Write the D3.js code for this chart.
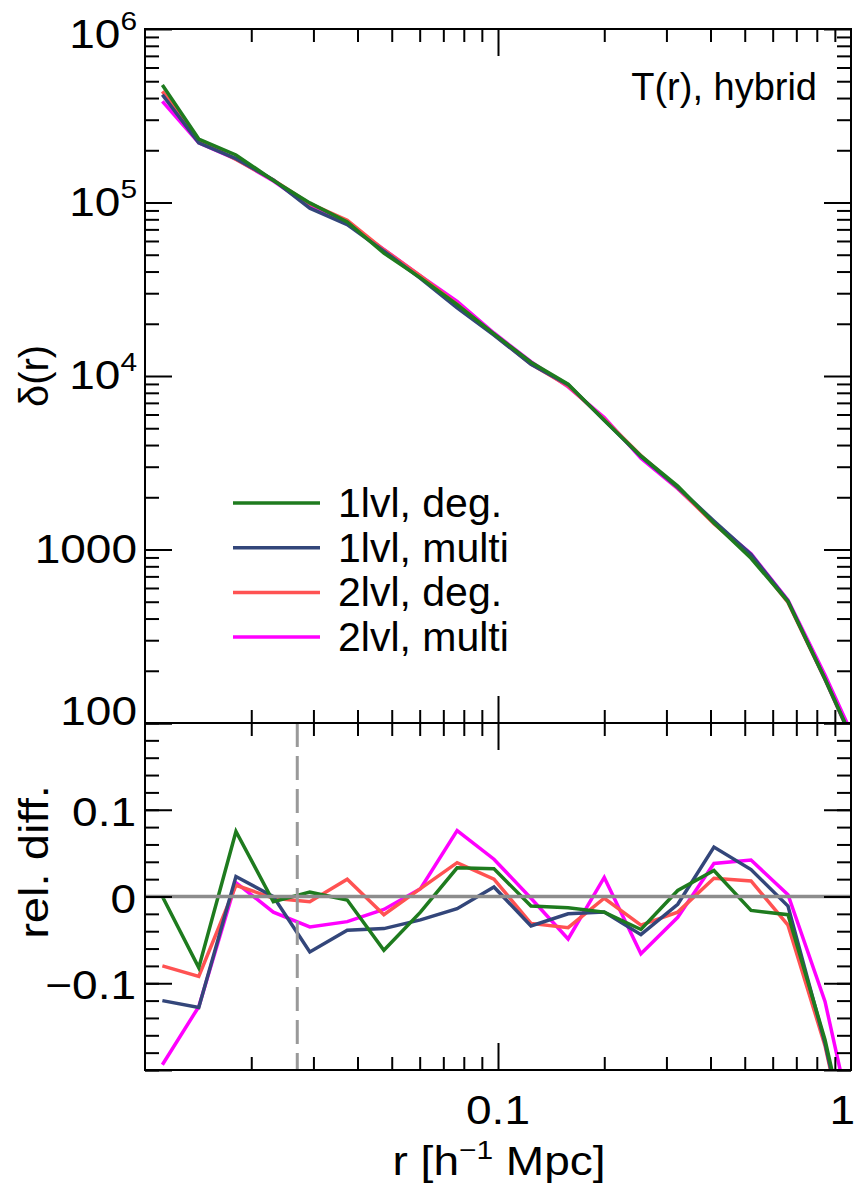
<!DOCTYPE html>
<html>
<head>
<meta charset="utf-8">
<script src="https://cdn.jsdelivr.net/npm/d3@7"></script>
<style>
  body { margin: 0; background: #fff; }
  text { font-family: "Liberation Sans", Arial, Helvetica, sans-serif; fill: #000; }
</style>
</head>
<body>
<svg id="chart" width="855" height="1188"></svg>
<script>
// radius bins [h^-1 Mpc]
const radius = [0.0112, 0.0142, 0.0181, 0.0231, 0.0293, 0.0374, 0.0475, 0.0603, 0.0766, 0.0974,
                0.124, 0.158, 0.200, 0.254, 0.323, 0.409, 0.521, 0.663, 0.844, 1.07];

const seriesNames = ["1lvl, deg.", "1lvl, multi", "2lvl, deg.", "2lvl, multi"];
const seriesColors = ["#1e7b1e", "#33467a", "#ff5252", "#ff00ff"];

// delta(r), top panel
const delta1lvlDeg   = [4.75e5, 2.32e5, 1.88e5, 1.34e5, 9.95e4, 7.72e4, 5.11e4, 3.68e4, 2.58e4, 1.75e4,
                        1.20e4, 8980, 5550, 3460, 2320, 1420, 890, 500, 180, 62];
const delta1lvlMulti = [4.18e5, 2.21e5, 1.79e5, 1.35e5, 9.27e4, 7.45e4, 5.25e4, 3.65e4, 2.47e4, 1.72e4,
                        1.17e4, 8920, 5550, 3440, 2280, 1460, 935, 505, 179, 61];
const delta2lvlDeg   = [4.37e5, 2.30e5, 1.77e5, 1.35e5, 9.84e4, 7.90e4, 5.34e4, 3.78e4, 2.60e4, 1.73e4,
                        1.17e4, 8770, 5640, 3480, 2260, 1410, 920, 495, 178, 61];
const delta2lvlMulti = [3.83e5, 2.21e5, 1.78e5, 1.33e5, 9.55e4, 7.53e4, 5.37e4, 3.78e4, 2.69e4, 1.77e4,
                        1.21e4, 8650, 5770, 3360, 2240, 1430, 945, 510, 189, 66];

// relative difference, bottom panel
const rel1lvlDeg   = [0.0, -0.082, 0.075, -0.006, 0.005, -0.004, -0.062, -0.018, 0.033, 0.032,
                      -0.011, -0.013, -0.018, -0.038, 0.007, 0.030, -0.016, -0.021, -0.165, -0.35];
const rel1lvlMulti = [-0.120, -0.128, 0.023, 0.0, -0.064, -0.039, -0.037, -0.027, -0.014, 0.011,
                      -0.034, -0.020, -0.018, -0.044, -0.009, 0.057, 0.031, -0.011, -0.169, -0.36];
const rel2lvlDeg   = [-0.080, -0.092, 0.013, -0.002, -0.006, 0.020, -0.021, 0.009, 0.039, 0.020,
                      -0.031, -0.036, -0.002, -0.033, -0.018, 0.021, 0.018, -0.033, -0.172, -0.36];
const rel2lvlMulti = [-0.194, -0.127, 0.016, -0.018, -0.035, -0.029, -0.015, 0.009, 0.076, 0.043,
                      -0.002, -0.049, 0.022, -0.066, -0.024, 0.038, 0.042, 0.002, -0.121, -0.31];

const topTickValues = [1e6, 1e5, 1e4, 1000, 100];
const topTickLabels = [["10", "6"], ["10", "5"], ["10", "4"], ["1000", ""], ["100", ""]];
const botTickValues = [0.1, 0, -0.1];
const botTickLabels = ["0.1", "0", "\u22120.1"];
const xTickValues = [0.1, 1];
const xTickLabels = ["0.1", "1"];
const resolutionLimit = 0.027;

const topSeries = [delta1lvlDeg, delta1lvlMulti, delta2lvlDeg, delta2lvlMulti];
const botSeries = [rel1lvlDeg, rel1lvlMulti, rel2lvlDeg, rel2lvlMulti];

const svg = d3.select("#chart");
const pLeft = 145, pRight = 851, pTop = 29, pMid = 723, pBottom = 1070;
const labelStretch = 1.15;

const x = d3.scaleLog().domain([0.01, 1]).range([pLeft, pRight]);
const yTop = d3.scaleLog().domain([100, 1e6]).range([pMid, pTop]);
const yBot = d3.scaleLinear().domain([-0.2, 0.2]).range([pBottom, pMid]);

const defs = svg.append("defs");
defs.append("clipPath").attr("id", "clipTop")
  .append("rect").attr("x", pLeft).attr("y", pTop).attr("width", pRight - pLeft).attr("height", pMid - pTop);
defs.append("clipPath").attr("id", "clipBot")
  .append("rect").attr("x", pLeft).attr("y", pMid).attr("width", pRight - pLeft).attr("height", pBottom - pMid);

// data lines, drawn so that the first series ends up on top
const order = [3, 2, 1, 0];

const lineTop = d3.line().x((d, i) => x(radius[i])).y(d => yTop(d));
const lineBot = d3.line().x((d, i) => x(radius[i])).y(d => yBot(d));

svg.append("g").attr("clip-path", "url(#clipTop)")
  .selectAll("path").data(order).join("path")
  .attr("d", k => lineTop(topSeries[k]))
  .attr("fill", "none").attr("stroke", k => seriesColors[k])
  .attr("stroke-width", 3.5).attr("stroke-linejoin", "miter");

svg.append("g").attr("clip-path", "url(#clipBot)")
  .selectAll("path").data(order).join("path")
  .attr("d", k => lineBot(botSeries[k]))
  .attr("fill", "none").attr("stroke", k => seriesColors[k])
  .attr("stroke-width", 3.5).attr("stroke-linejoin", "miter");

// zero line and resolution limit
svg.append("line")
  .attr("x1", pLeft).attr("x2", pRight).attr("y1", yBot(0)).attr("y2", yBot(0))
  .attr("stroke", "#8c8c8c").attr("stroke-width", 3.5);
svg.append("line")
  .attr("x1", x(resolutionLimit)).attr("x2", x(resolutionLimit))
  .attr("y1", pMid).attr("y2", pBottom)
  .attr("stroke", "#999").attr("stroke-width", 3).attr("stroke-dasharray", "24,9");

// ticks
function tickGroup(axisFn, scale, values, size, transform) {
  const g = svg.append("g").attr("transform", transform)
    .call(axisFn(scale).tickValues(values).tickSize(size).tickFormat(""));
  g.select(".domain").remove();
  g.selectAll("line").attr("stroke", "#000").attr("stroke-width", 2);
}

const xMinor = [];
[0.01, 0.1].forEach(dec => { for (let m = 2; m <= 9; m++) xMinor.push(dec * m); });
const xMajor = [0.1];
const yTopMinor = [];
[100, 1000, 1e4, 1e5].forEach(dec => { for (let m = 2; m <= 9; m++) yTopMinor.push(dec * m); });
const yTopMajor = [100, 1000, 1e4, 1e5, 1e6];
const yBotMinor = d3.range(-20, 21, 2).map(v => v / 100);
const yBotMajor = [-0.2, -0.1, 0, 0.1, 0.2];

// top panel
tickGroup(d3.axisBottom, x, xMinor, 13, `translate(0,${pTop})`);
tickGroup(d3.axisBottom, x, xMajor, 27, `translate(0,${pTop})`);
tickGroup(d3.axisTop, x, xMinor, 13, `translate(0,${pMid})`);
tickGroup(d3.axisTop, x, xMajor, 27, `translate(0,${pMid})`);
tickGroup(d3.axisRight, yTop, yTopMinor, 14, `translate(${pLeft},0)`);
tickGroup(d3.axisRight, yTop, yTopMajor, 27, `translate(${pLeft},0)`);
tickGroup(d3.axisLeft, yTop, yTopMinor, 14, `translate(${pRight},0)`);
tickGroup(d3.axisLeft, yTop, yTopMajor, 27, `translate(${pRight},0)`);
// bottom panel
tickGroup(d3.axisBottom, x, xMinor, 13, `translate(0,${pMid})`);
tickGroup(d3.axisBottom, x, xMajor, 27, `translate(0,${pMid})`);
tickGroup(d3.axisTop, x, xMinor, 13, `translate(0,${pBottom})`);
tickGroup(d3.axisTop, x, xMajor, 27, `translate(0,${pBottom})`);
tickGroup(d3.axisRight, yBot, yBotMinor, 14, `translate(${pLeft},0)`);
tickGroup(d3.axisRight, yBot, yBotMajor, 27, `translate(${pLeft},0)`);
tickGroup(d3.axisLeft, yBot, yBotMinor, 14, `translate(${pRight},0)`);
tickGroup(d3.axisLeft, yBot, yBotMajor, 27, `translate(${pRight},0)`);

// frames
[[pTop, pMid], [pMid, pBottom]].forEach(([y0, y1]) => {
  svg.append("rect").attr("x", pLeft).attr("y", y0)
    .attr("width", pRight - pLeft).attr("height", y1 - y0)
    .attr("fill", "none").attr("stroke", "#000").attr("stroke-width", 2);
});

// tick labels
function stretchedText(px, py, anchor, size) {
  return svg.append("g").attr("transform", `translate(${px},${py}) scale(${labelStretch},1)`)
    .append("text").attr("text-anchor", anchor).attr("font-size", size);
}

topTickValues.forEach((v, i) => {
  const off = v === 1e6 ? 19 : (v === 100 ? 2 : 13);
  const t = stretchedText(137, yTop(v) + off, "end", 40);
  t.append("tspan").text(topTickLabels[i][0]);
  if (topTickLabels[i][1]) t.append("tspan").attr("dy", -18).attr("font-size", 26).text(topTickLabels[i][1]);
});
botTickValues.forEach((v, i) => {
  stretchedText(136, yBot(v) + 16, "end", 40).text(botTickLabels[i]);
});
xTickValues.forEach((v, i) => {
  // the last label would run off the right edge, so pin it to the edge
  if (v === 1) stretchedText(855, 1124, "end", 40).text(xTickLabels[i]);
  else stretchedText(x(v), 1124, "middle", 40).text(xTickLabels[i]);
});

// axis titles
const xt = stretchedText(499, 1175, "middle", 40);
xt.append("tspan").text("r [h");
xt.append("tspan").attr("dy", -16).attr("font-size", 26).text("\u22121");
xt.append("tspan").attr("dy", 16).text(" Mpc]");

svg.append("text").attr("transform", `translate(48,376) rotate(-90)`)
  .attr("text-anchor", "middle").attr("font-size", 40).text("\u03b4(r)");
svg.append("text").attr("transform", `translate(48,862) rotate(-90) scale(${labelStretch},1)`)
  .attr("text-anchor", "middle").attr("font-size", 41).text("rel. diff.");

// annotation
svg.append("text").attr("x", 817).attr("y", 100).attr("text-anchor", "end")
  .attr("font-size", 38).text("T(r), hybrid");

// legend
const legend = svg.append("g");
seriesNames.forEach((name, i) => {
  const ly = 503 + i * 44.7;
  legend.append("line").attr("x1", 233).attr("x2", 320).attr("y1", ly).attr("y2", ly)
    .attr("stroke", seriesColors[i]).attr("stroke-width", 3.5);
  legend.append("text").attr("x", 338).attr("y", ly + 14).attr("font-size", 41).text(name);
});
</script>
</body>
</html>
